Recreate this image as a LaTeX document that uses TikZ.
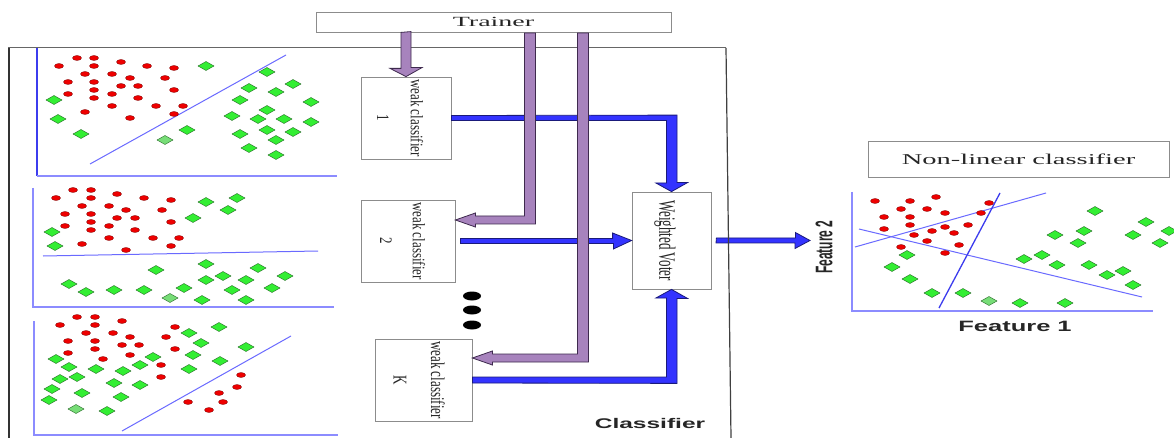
\documentclass[tikz,border=0pt]{standalone}
\usepackage{fontspec}
\setmainfont{Liberation Serif}
\setsansfont{Liberation Sans}
\usetikzlibrary{calc}
\definecolor{purpF}{HTML}{A783BD}
\definecolor{purpD}{HTML}{3E2A4E}
\definecolor{bluF}{HTML}{3333FF}
\definecolor{bluD}{HTML}{1A1A7A}
\definecolor{redF}{HTML}{EE0000}
\definecolor{redD}{HTML}{7A0000}
\definecolor{grnF}{HTML}{33EE33}
\definecolor{grnL}{HTML}{77DD77}
\definecolor{grnD}{HTML}{2A6A2A}
\definecolor{axL}{HTML}{8C8CFF}
\definecolor{axD}{HTML}{3C3CEE}
\definecolor{sepB}{HTML}{6A6AFF}
\begin{document}
\begin{tikzpicture}[x=1pt,y=-1pt,
  box/.style={draw=black!45, line width=0.8pt, fill=white, inner sep=0pt},
  parrow/.style={fill=purpF, draw=purpD, line width=0.8pt, line join=miter},
  barrow/.style={fill=bluF, draw=bluD, line width=0.8pt, line join=miter},
  axis/.style={draw=axL, line width=1.4pt},
  axisv/.style={draw=axD, line width=1.4pt},
  sep/.style={draw=sepB, line width=1pt},
  reddot/.style={fill=redF, draw=redD, line width=0.3pt},
  grn/.style={fill=grnF, draw=grnD, line width=0.4pt},
  grnl/.style={fill=grnL, draw=grnD, line width=0.4pt},
  wtxt/.style={font=\fontsize{13pt}{15pt}\selectfont, text=black!85, inner sep=0pt, rotate=-90},
  lbl/.style={font=\fontsize{14pt}{16pt}\selectfont, text=black!85, inner sep=0pt},
  sans/.style={font=\sffamily\bfseries\fontsize{14pt}{16pt}\selectfont, text=black!85, inner sep=0pt}
]
\useasboundingbox (0,0) rectangle (1174,438);
\fill[white] (0,0) rectangle (1174,438);

% outer classifier frame
\draw[black!60, line width=1pt] (8,48) -- (726,48);
\draw[black!80, line width=2pt] (9,48) -- (9,438);

% ---------- panel 1 ----------
\draw[axisv] (37,48) -- (37,176);
\draw[axis] (37,176) -- (337,176);
\draw[sep] (90,164) -- (286,55);
\foreach \x/\y in {77/58,94/58,59/66,94/66,121/62,147/66,174/68,85/74,112/74,130/78,165/78,68/82,94/82,121/86,138/86,68/94,94/90,112/94,174/90,94/98,138/98,112/106,156/106,183/106,85/112,130/118,174/114}
  \filldraw[reddot] (\x,\y) ellipse [x radius=4.5pt, y radius=2.5pt];
\foreach \x/\y in {206/66,267/72,293/84,249/88,276/92,240/100,311/102,267/110,54/100,58/119,81/134,232/116,258/119,284/119,311/122,187/130,267/130,240/134,293/132,276/140,249/148,276/155}
  \filldraw[grn] (\x,\y) +(-8,0) -- +(0,-4.5) -- +(8,0) -- +(0,4.5) -- cycle;
\filldraw[grnl] (165,140) +(-8,0) -- +(0,-4.5) -- +(8,0) -- +(0,4.5) -- cycle;

% ---------- panel 2 ----------
\draw[axis] (33,188) -- (33,307) -- (334,307);
\draw[sep] (43,256) -- (318,251);
\foreach \x/\y in {73/190,91/190,56/198,91/198,117/194,144/198,171/200,82/206,109/206,126/210,162/210,65/214,91/214,117/218,135/218,65/226,91/222,109/226,171/222,91/230,135/230,109/238,153/238,179/238,82/244,126/250,171/246}
  \filldraw[reddot] (\x,\y) ellipse [x radius=4.5pt, y radius=2.5pt];
\foreach \x/\y in {206/202,237/198,228/210,193/218,52/232,55/246,206/264,156/270,258/268,206/280,223/276,246/280,285/276,69/284,86/292,114/290,144/290,184/288,232/290,272/288,202/300,246/300}
  \filldraw[grn] (\x,\y) +(-8,0) -- +(0,-4.5) -- +(8,0) -- +(0,4.5) -- cycle;
\filldraw[grnl] (170,298) +(-8,0) -- +(0,-4.5) -- +(8,0) -- +(0,4.5) -- cycle;

% ---------- panel 3 ----------
\draw[axis] (34,321) -- (34,435) -- (338,435);
\draw[sep] (122,431) -- (291,336);
\foreach \x/\y in {77/317,95/317,60/325,95/325,122/321,86/333,113/333,130/337,175/327,166/337,68/341,95/341,122/345,139/345,68/353,95/349,130/355,175/349,103/359,161/365,161/377,241/375,237/387,219/393,188/402,223/402,209/410}
  \filldraw[reddot] (\x,\y) ellipse [x radius=4.5pt, y radius=2.5pt];
\foreach \x/\y in {189/333,219/327,201/343,246/347,193/355,220/361,56/359,153/357,69/367,96/369,140/365,123/371,189/369,60/379,77/377,114/383,140/385,52/389,82/393,121/397,49/400,107/411}
  \filldraw[grn] (\x,\y) +(-8,0) -- +(0,-4.5) -- +(8,0) -- +(0,4.5) -- cycle;
\filldraw[grnl] (76,409) +(-8,0) -- +(0,-4.5) -- +(8,0) -- +(0,4.5) -- cycle;

% ---------- feature panel ----------
\draw[axis] (852,192) -- (852,311) -- (1153,311);
\draw[sep] (855,247) -- (1046,193);
\draw[sep] (859,229) -- (1142,297);
\draw[draw=axD, line width=1.3pt] (1000,193) -- (939,308);
\foreach \x/\y in {875/201,910/201,936/197,989/203,901/209,927/209,945/213,981/213,884/217,910/217,884/229,910/225,945/227,968/225,932/231,954/233,914/235,927/241,959/245,901/247,945/253}
  \filldraw[reddot] (\x,\y) ellipse [x radius=4.5pt, y radius=2.5pt];
\foreach \x/\y in {1095/211,1146/222,1169/231,1084/231,1055/235,1133/235,1078/243,1160/243,907/255,1042/255,1024/259,892/267,1057/265,1089/265,1107/275,1123/271,910/279,1133/285,932/293,963/293,1020/303,1065/303}
  \filldraw[grn] (\x,\y) +(-8,0) -- +(0,-4.5) -- +(8,0) -- +(0,4.5) -- cycle;
\filldraw[grnl] (989,301) +(-8,0) -- +(0,-4.5) -- +(8,0) -- +(0,4.5) -- cycle;

% ---------- boxes ----------
\node[box, minimum width=355pt, minimum height=20pt] (t) at (493.5,22) {};
\node[box, minimum width=90pt, minimum height=82pt] (w1) at (406,118) {};
\node[box, minimum width=94pt, minimum height=82pt] (w2) at (408,241) {};
\node[box, minimum width=97pt, minimum height=82pt] (wk) at (423.5,380) {};
\node[box, minimum width=79pt, minimum height=97pt] (wv) at (671.5,240.5) {};
\node[box, minimum width=301pt, minimum height=36pt] (nl) at (1018.5,159) {};
\coordinate (outtip) at (810,240.5);

% ---------- blue arrows ----------
\filldraw[barrow] (wv.north) -- ++(16,-9) -- ++(-10.5,0) -- ++(0,-67.5)
  -- ($(w1.east)+(0,-2.5)$) -- ++(0,5) -- ++(215,0) -- ++(0,62.5) -- ++(-10.5,0) -- cycle;
\filldraw[barrow] (wv.south) -- ++(16,9) -- ++(-10.5,0) -- ++(0,85)
  -- ($(wk.east)+(0,3)$) -- ++(0,-6) -- ++(194,0) -- ++(0,-79) -- ++(-10.5,0) -- cycle;
\filldraw[barrow] (wv.west) -- ++(-19,-7.5) -- ++(0,5.5) -- ($(w2.east)+(5,-2.5)$)
  -- ++(0,5) -- ++(153,0) -- ++(0,5.5) -- cycle;
\filldraw[barrow] ($(wv.east)+(5,-2.5)$) -- ++(79,0) -- ++(0,-5.5) -- (outtip)
  -- ++(-15,8) -- ++(0,-5.5) -- ++(-79,0) -- cycle;

% ---------- purple arrows ----------
\coordinate (p1top) at (t.south -| w1.north);
\filldraw[parrow] ($(p1top)+(-5,0)$) -- ++(0,36) -- ++(-11,0) -- (w1.north)
  -- ++(16,-9) -- ++(-11,0) -- ++(0,-36) -- cycle;
\coordinate (T2) at ($(w2.east)+(0,-21)$);
\filldraw[parrow] (T2) -- ++(20,-7) -- ++(0,3) -- ++(49,0) -- ++(0,-183) -- ++(11,0)
  -- ++(0,191) -- ++(-60,0) -- ++(0,3) -- cycle;
\coordinate (T3) at ($(wk.east)+(0,-22)$);
\filldraw[parrow] (T3) -- ++(20,-7) -- ++(0,3) -- ++(85,0) -- ++(0,-321) -- ++(11,0)
  -- ++(0,329) -- ++(-96,0) -- ++(0,3) -- cycle;

% right edge of classifier frame
\draw[black!75, line width=1.2pt] (726,48) -- (731,438);

% ---------- dots ----------
\foreach \yy in {296,310,325}
  \fill[black] (472,\yy) ellipse [x radius=9pt, y radius=4.5pt];

% ---------- texts ----------
\node[lbl] (tt) at (t) {\scalebox{2}[1]{Trainer}};
\node[lbl, font=\fontsize{15pt}{17pt}\selectfont] (nlt) at (nl) {\scalebox{1.9}[1]{Non-linear classifier}};
\node[wtxt] (w1a) at ($(w1)+(11,0)$) {\scalebox{1}[1.35]{weak classifier}};
\node[wtxt] (w1b) at ($(w1)+(-23,0)$) {\scalebox{1}[1.35]{1}};
\node[wtxt] (w2a) at ($(w2)+(11,0)$) {\scalebox{1}[1.35]{weak classifier}};
\node[wtxt] (w2b) at ($(w2)+(-22,0)$) {\scalebox{1}[1.35]{2}};
\node[wtxt] (wka) at ($(wk)+(14.5,0)$) {\scalebox{1}[1.5]{weak classifier}};
\node[wtxt] (wkb) at ($(wk)+(-23.5,0)$) {\scalebox{1}[1.5]{K}};
\node[wtxt] (wvt) at ($(wv)+(-6.5,0)$) {\scalebox{1}[1.8]{Weighted Voter}};
\node[sans] (cl) at (650,423) {\scalebox{1.75}[1]{Classifier}};
\node[sans, font=\sffamily\bfseries\fontsize{15pt}{17pt}\selectfont] (f1) at (1015,326) {\scalebox{1.7}[1]{Feature 1}};
\node[sans, font=\sffamily\bfseries\fontsize{12pt}{14pt}\selectfont, rotate=90] (f2) at (824,247) {\scalebox{1}[2]{Feature 2}};
\end{tikzpicture}
\end{document}
